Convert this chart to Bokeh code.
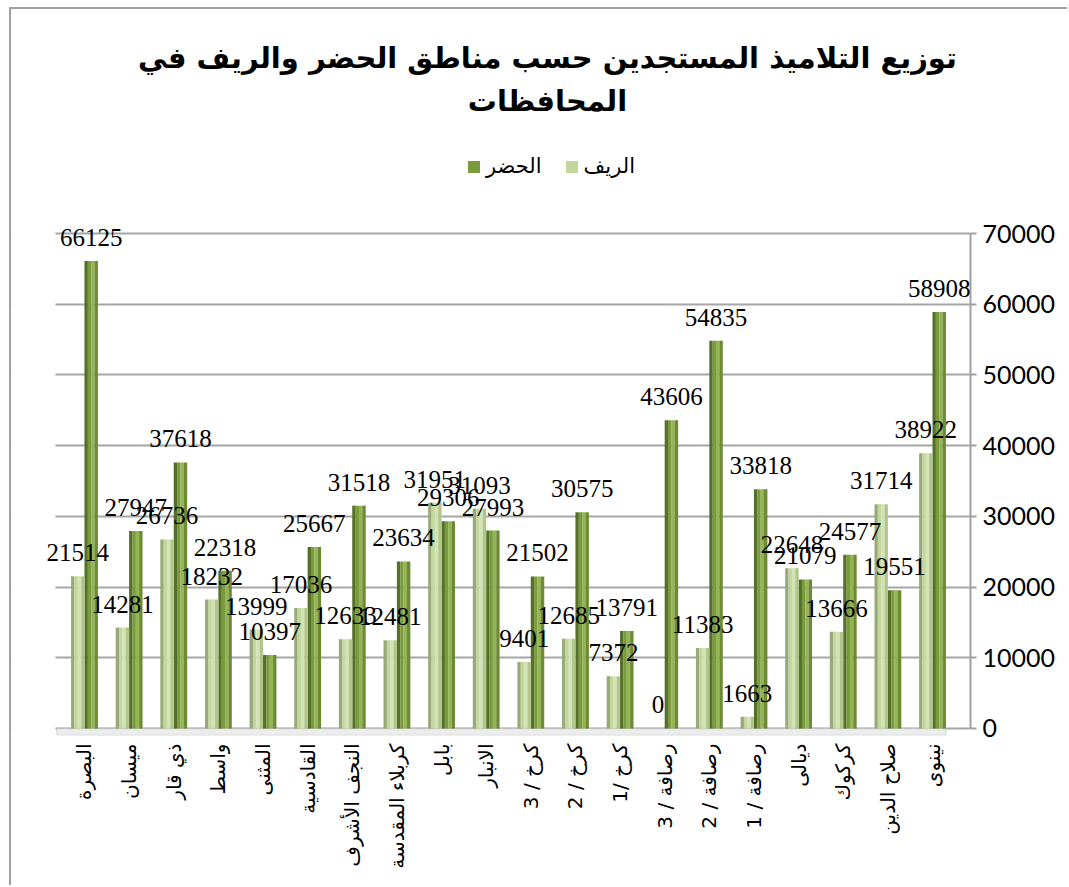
import math
from bokeh.plotting import figure
from bokeh.models import (ColumnDataSource, Range1d, FixedTicker, LabelSet,
                          Label, Legend, LegendItem, BoxAnnotation, NumeralTickFormatter)
from bokeh.transform import dodge
from bokeh.embed import file_html
from bokeh.resources import INLINE

# ---- data ----
governorates = ["البصرة", "ميسان", "ذي قار", "واسط", "المثنى", "القادسية", "النجف الأشرف",
                "كربلاء المقدسة", "بابل", "الانبار", "كرخ / 3", "كرخ / 2", "كرخ /1",
                "رصافة / 3", "رصافة / 2", "رصافة / 1", "ديالى", "كركوك", "صلاح الدين", "نينوى"]
rural = [21514, 14281, 26736, 18232, 13999, 17036, 12633, 12481, 31951, 31093,
         9401, 12685, 7372, 0, 11383, 1663, 22648, 13666, 31714, 38922]
urban = [66125, 27947, 37618, 22318, 10397, 25667, 31518, 23634, 29306, 27993,
         21502, 30575, 13791, 43606, 54835, 33818, 21079, 24577, 19551, 58908]
y_ticks = [0, 10000, 20000, 30000, 40000, 50000, 60000, 70000]
title_line1 = "توزيع التلاميذ المستجدين حسب مناطق الحضر والريف في"
title_line2 = "المحافظات"
series_names = ["الحضر", "الريف"]

idx = list(range(len(governorates)))
src = ColumnDataSource(dict(i=idx, rural=rural, urban=urban,
                            rural_txt=[str(v) for v in rural],
                            urban_txt=[str(v) for v in urban]))

FRAME_L, FRAME_B = 12, 735   # page pixels of the frame's left / bottom edges

p = figure(width=1058, height=878,
           x_range=Range1d(-1.613, 19.851), y_range=Range1d(-990, 101540),
           y_axis_location="right", output_backend="svg", toolbar_location=None,
           min_border_left=1, min_border_right=99, min_border_top=1, min_border_bottom=152)
p.styles = {"margin-left": "9px", "margin-top": "7px",
            "border-left": "2px solid #a0a0a0", "border-top": "2px solid #a0a0a0"}
p.outline_line_color = None
p.background_fill_color = "white"
p.xgrid.grid_line_color = None
p.ygrid.ticker = FixedTicker(ticks=y_ticks)
p.ygrid.grid_line_color = "#a6a6a6"
p.ygrid.grid_line_width = 2

# mask grid left of the back wall
p.add_layout(BoxAnnotation(right=-0.65, fill_color="white", fill_alpha=1,
                           line_color=None, level="underlay"))
# floor
p.add_layout(BoxAnnotation(left=-0.62, right=19.3, bottom=-990, top=0, fill_color="#ececec",
                           fill_alpha=1, line_color="#a6a6a6", line_width=1.5, level="underlay"))

bw = 0.30
strips_r = ["#9aa97c", "#c3d69b", "#d3e3b5", "#b2c68c"]
strips_u = ["#55702a", "#7a9a3e", "#93b553", "#6d8b34"]
ns = len(strips_r)
sw = bw / ns
for k in range(ns):
    off_r = -bw + sw * (k + 0.5)
    off_u = sw * (k + 0.5)
    p.vbar(x=dodge("i", off_r), top="rural", width=sw * 1.02, bottom=0,
           source=src, fill_color=strips_r[k], line_color=None)
    p.vbar(x=dodge("i", off_u), top="urban", width=sw * 1.02, bottom=0,
           source=src, fill_color=strips_u[k], line_color=None)

# legend proxies
r_u = p.vbar(x=[0], top=[0], width=0, fill_color="#7a9a3e", line_color=None)
r_r = p.vbar(x=[0], top=[0], width=0, fill_color="#c3d69b", line_color=None)

lab_kw = dict(source=src, text_align="center", text_baseline="bottom", y_offset=15,
              text_font="Lato", text_font_size="25px", text_color="black")
p.add_layout(LabelSet(x=dodge("i", -bw / 2), y="rural", text="rural_txt", **lab_kw))
p.add_layout(LabelSet(x=dodge("i", bw / 2), y="urban", text="urban_txt", **lab_kw))

# axes
ya = p.yaxis[0]
ya.bounds = (0, 70000)
ya.ticker = FixedTicker(ticks=y_ticks)
ya.formatter = NumeralTickFormatter(format="0")
ya.axis_line_color = "#a0a0a0"
ya.axis_line_width = 2
ya.major_tick_line_color = "#a0a0a0"
ya.major_tick_line_width = 2
ya.major_tick_in = 0
ya.major_tick_out = 6
ya.minor_tick_line_color = None
ya.major_label_standoff = 6
ya.major_label_text_font = "Lato"
ya.major_label_text_font_size = "25px"
ya.major_label_text_color = "black"

xa = p.xaxis[0]
xa.ticker = FixedTicker(ticks=idx)
xa.major_label_overrides = {i: name for i, name in zip(idx, governorates)}
xa.axis_line_color = None
xa.major_tick_line_color = None
xa.minor_tick_line_color = None
xa.major_label_orientation = math.pi / 2
xa.major_label_standoff = 2
xa.major_label_text_font = "DejaVu Sans"
xa.major_label_text_font_size = "20px"
xa.major_label_text_color = "black"

# title (screen units relative to the frame)
t_kw = dict(x_units="screen", y_units="screen", text_align="center", text_baseline="middle",
            text_font="DejaVu Sans", text_font_style="bold", text_font_size="29px",
            text_color="black")
p.add_layout(Label(x=547 - FRAME_L, y=FRAME_B - 57, text=title_line1, **t_kw))
p.add_layout(Label(x=547 - FRAME_L, y=FRAME_B - 100, text=title_line2, **t_kw))

legend = Legend(items=[LegendItem(label=series_names[0], renderers=[r_u]),
                       LegendItem(label=series_names[1], renderers=[r_r])],
                orientation="horizontal", location=(466 - FRAME_L, FRAME_B - 178),
                glyph_width=15, glyph_height=15, label_standoff=5, spacing=22,
                padding=0, margin=0, border_line_color=None, background_fill_alpha=0,
                label_height=20, label_text_font="DejaVu Sans", label_text_font_size="21px",
                label_text_color="black")
p.add_layout(legend)

open("out.html", "w").write(file_html(p, INLINE))
